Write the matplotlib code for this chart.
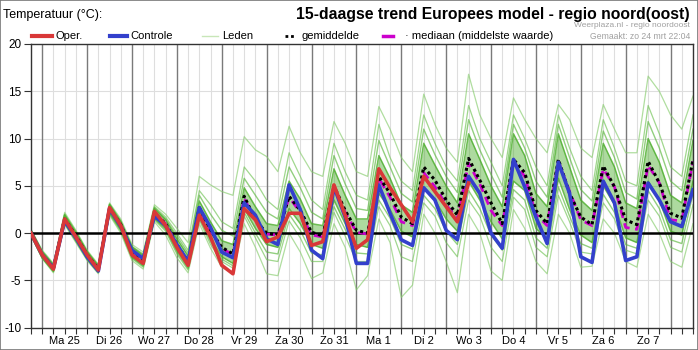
import numpy as np
import matplotlib
matplotlib.use('Agg')
import matplotlib.pyplot as plt
from matplotlib.lines import Line2D
from matplotlib.patches import Rectangle

plt.rcParams['font.family'] = ['Liberation Sans', 'DejaVu Sans']

# hours after ma 25 00:00, one value every 6 hours (zo 24 18:00 .. ma 8 12:00)
hours = np.arange(-6, 349, 6)

day_labels = ['Ma 25', 'Di 26', 'Wo 27', 'Do 28', 'Vr 29', 'Za 30', 'Zo 31',
              'Ma 1', 'Di 2', 'Wo 3', 'Do 4', 'Vr 5', 'Za 6', 'Zo 7']

# operational run (10 days)
oper = [0.0, -2.3, -3.8, 1.5, -0.4, -2.3, -3.9, 2.7, 0.8, -2.3,
        -3.2, 2.3, 0.8, -1.5, -3.4, 1.9, -0.4, -3.4, -4.3, 2.6,
        1.4, -0.9, -0.4, 2.1, 2.1, -1.3, -0.9, 5.1, 1.9, -1.6,
        -0.7, 6.8, 4.8, 3.0, 1.2, 6.0, 4.4, 2.8, 1.2, 5.3]

# control run
ctrl = [0.0, -2.3, -3.7, 1.3, -0.5, -2.5, -4.0, 2.6, 0.7, -1.8,
        -2.7, 1.8, 0.8, -1.2, -3.0, 2.7, 0.6, -2.0, -2.6, 3.2,
        1.9, -0.6, -1.2, 5.1, 2.5, -1.8, -2.7, 4.9, 1.7, -3.2,
        -3.2, 5.1, 2.1, -0.7, -1.3, 4.8, 3.5, 0.3, -0.7, 6.0,
        4.2, 0.0, -1.6, 7.8, 4.9, 1.7, -1.1, 7.5, 4.2, -2.5,
        -3.1, 5.5, 3.2, -2.9, -2.5, 5.3, 3.5, 1.2, 0.7, 4.6]

# ensemble mean
mean = [0.0, -2.3, -3.7, 1.5, -0.3, -2.3, -3.8, 2.6, 0.9, -2.0,
        -2.9, 2.1, 1.0, -1.2, -3.0, 2.7, 0.3, -1.5, -2.2, 3.9,
        1.4, 0.0, -0.2, 3.9, 2.4, 0.1, -0.3, 5.0, 2.4, 0.3,
        0.0, 6.0, 4.2, 1.7, 1.0, 7.0, 5.6, 3.5, 1.9, 7.9,
        5.6, 3.2, 1.0, 7.8, 6.4, 2.4, 1.0, 7.8, 4.2, 1.7,
        0.9, 7.1, 4.9, 1.4, 0.9, 7.6, 5.3, 2.1, 1.6, 7.8]

# ensemble median
median = [0.0, -2.3, -3.7, 1.5, -0.3, -2.3, -3.8, 2.6, 0.9, -2.0,
          -2.9, 2.1, 1.0, -1.2, -3.0, 2.5, 0.2, -1.6, -2.3, 3.7,
          1.3, -0.1, -0.2, 3.8, 2.2, -0.2, -0.4, 4.8, 2.2, 0.1,
          -0.1, 5.8, 3.8, 1.2, 0.8, 6.4, 4.9, 3.0, 1.5, 7.4,
          5.2, 2.4, 0.8, 7.6, 6.0, 2.0, 0.8, 7.6, 4.4, 1.4,
          0.8, 6.8, 4.9, 0.6, 0.4, 7.2, 5.3, 1.4, 1.3, 7.6]

# members: dense core band and the spread of outer lines
core_hi = [0.3, -2.0, -3.4, 1.9, 0.0, -2.0, -3.5, 3.0, 1.2, -1.5,
           -2.4, 2.6, 1.4, -0.6, -2.4, 3.4, 1.2, -0.8, -1.2, 4.8,
           2.8, 1.0, 0.8, 5.5, 3.6, 1.0, 0.8, 6.8, 4.0, 1.5,
           1.5, 8.2, 5.8, 3.0, 2.2, 9.5, 7.2, 5.0, 3.2, 10.5,
           7.8, 5.0, 2.8, 10.5, 8.2, 4.2, 2.8, 10.5, 7.0, 3.5,
           2.4, 9.5, 7.0, 3.2, 2.6, 10.0, 7.5, 4.0, 3.2, 9.8]
core_lo = [-0.2, -2.6, -4.0, 1.1, -0.7, -2.7, -4.1, 2.2, 0.4, -2.5,
           -3.4, 1.6, 0.5, -1.8, -3.6, 1.8, -0.6, -2.5, -3.2, 2.6,
           0.5, -1.2, -1.5, 2.6, 1.0, -1.2, -1.6, 3.5, 1.0, -1.2,
           -1.5, 4.2, 2.5, 0.2, -0.4, 4.8, 3.5, 1.5, 0.2, 5.5,
           3.5, 1.2, -0.6, 5.5, 4.5, 0.5, -0.6, 5.8, 2.5, -0.2,
           -1.0, 5.0, 3.0, -0.5, -1.0, 5.5, 3.5, 0.2, -0.2, 5.5]
hi = [0.4, -1.8, -3.2, 2.2, 0.3, -1.8, -3.3, 3.2, 1.5, -1.2,
      -2.0, 3.0, 2.0, 0.5, -1.0, 6.0, 5.1, 4.4, 4.0, 10.2,
      8.8, 8.1, 6.5, 11.3, 8.5, 6.5, 6.0, 11.8, 9.5, 6.5,
      6.0, 13.4, 11.0, 8.0, 6.5, 14.7, 11.5, 9.0, 7.5, 16.8,
      12.5, 10.0, 8.0, 14.3, 12.0, 10.0, 8.5, 13.6, 12.0, 9.0,
      8.0, 13.6, 11.0, 8.5, 8.5, 16.6, 15.0, 12.5, 11.0, 14.5]
up = [0.3, -1.9, -3.3, 2.0, 0.2, -1.9, -3.4, 3.1, 1.3, -1.4,
      -2.2, 2.8, 1.7, 0.0, -1.8, 4.5, 3.0, 1.2, 0.5, 7.0,
      5.5, 3.5, 2.5, 8.5, 6.0, 3.5, 2.5, 9.5, 6.5, 4.0,
      3.5, 11.5, 8.0, 5.5, 4.5, 12.5, 9.5, 7.0, 5.5, 13.5,
      10.0, 7.5, 5.0, 12.5, 10.0, 7.0, 5.0, 12.5, 9.0, 6.0,
      4.5, 12.0, 9.0, 5.5, 5.0, 13.5, 10.5, 7.0, 6.0, 12.5]
up2 = [0.35, -1.95, -3.35, 2.0, 0.1, -1.95, -3.45, 3.05, 1.25, -1.45,
       -2.3, 2.7, 1.5, -0.3, -2.1, 4.0, 2.0, 0.3, -0.3, 5.8,
       4.0, 2.2, 1.5, 7.0, 4.8, 2.2, 1.5, 8.2, 5.2, 2.6,
       2.4, 9.8, 7.0, 4.2, 3.3, 11.0, 8.3, 6.0, 4.3, 12.0,
       8.8, 6.2, 3.8, 11.5, 9.0, 5.5, 3.8, 11.5, 8.0, 4.6,
       3.4, 10.8, 8.0, 4.3, 3.6, 11.8, 9.0, 5.5, 4.5, 11.0]
dn2 = [-0.22, -2.62, -4.05, 1.05, -0.8, -2.75, -4.15, 2.1, 0.3, -2.6,
       -3.5, 1.5, 0.35, -2.0, -3.75, 1.6, -0.9, -2.75, -3.45, 2.2,
       0.0, -2.0, -2.2, 2.0, 0.3, -2.1, -2.3, 2.8, 0.4, -2.1,
       -2.2, 3.5, 1.6, -1.2, -1.7, 4.0, 2.6, 0.2, -1.2, 4.5,
       2.6, -0.2, -1.8, 4.6, 3.5, -0.5, -1.6, 4.9, 1.8, -1.1,
       -1.6, 4.1, 2.2, -1.2, -1.6, 4.5, 2.6, -0.7, -1.1, 4.2]
dn = [-0.25, -2.65, -4.1, 1.0, -0.9, -2.8, -4.2, 2.0, 0.2, -2.7,
      -3.6, 1.4, 0.2, -2.2, -3.9, 1.4, -1.2, -3.0, -3.7, 1.8,
      -0.5, -2.8, -3.0, 1.3, -0.5, -3.0, -3.0, 2.2, -0.3, -3.0,
      -3.0, 2.8, 0.8, -2.5, -3.0, 3.2, 1.8, -1.0, -2.5, 3.5,
      1.8, -1.5, -3.0, 3.8, 2.5, -1.5, -2.5, 4.0, 1.2, -2.0,
      -2.2, 3.2, 1.5, -1.8, -2.2, 3.5, 1.8, -1.5, -2.0, 3.0]
lo = [-0.3, -2.7, -4.2, 0.9, -1.0, -2.9, -4.3, 1.9, 0.0, -2.9,
      -3.8, 1.2, -0.2, -2.6, -4.2, 1.0, -1.6, -3.6, -4.2, 1.0,
      -1.5, -4.3, -4.5, 0.0, -2.0, -4.8, -4.2, 1.0, -1.5, -6.0,
      -4.5, 1.5, -1.0, -6.8, -5.5, 2.0, 0.0, -3.0, -6.3, 2.0,
      0.0, -4.0, -5.0, 2.5, 0.5, -3.0, -4.3, 2.0, 0.0, -3.6,
      -3.5, 1.5, 0.0, -3.0, -3.6, 2.0, 0.0, -3.0, -3.6, 1.0]

fig = plt.figure(figsize=(6.98, 3.5), dpi=100)
ax = fig.add_axes([31 / 698, 22.3 / 350, 662 / 698, 283.7 / 350])

# grid
for h in range(-6, 349, 6):
    if h % 24 == 0:
        ax.axvline(h, color='#7a7a7a', lw=1.0, zorder=1)
    else:
        ax.axvline(h, color='#dedede', lw=0.8, zorder=0)
for v in [-5, 5, 10, 15]:
    ax.axhline(v, color='#dedede', lw=0.8, zorder=0)

# ensemble members
green = '#4aad2a'
ax.fill_between(hours, core_lo, core_hi, color=green, alpha=0.45, lw=0, zorder=2)
for m in [hi, lo]:
    ax.plot(hours, m, color='#86cc6c', lw=0.9, alpha=0.65, zorder=2)
for m in [up, dn]:
    ax.plot(hours, m, color='#6ec252', lw=0.9, alpha=0.65, zorder=2)
for m in [up2, dn2]:
    ax.plot(hours, m, color='#58b63a', lw=1.0, alpha=0.65, zorder=2)
for m in [core_hi, core_lo]:
    ax.plot(hours, m, color=green, lw=1.1, alpha=0.8, zorder=2)

ax.axhline(0, color='black', lw=1.8, zorder=3)

ax.plot(hours, median, color='#cc00cc', lw=2.0, dashes=(3, 2), zorder=4)
ax.plot(hours, mean, color='black', lw=2.2, dashes=(1, 1), zorder=5)
ax.plot(hours, ctrl, color='#3340cc', lw=2.6, zorder=6)
ax.plot(hours[:len(oper)], oper, color='#d93838', lw=2.6, zorder=7)

ax.set_xlim(-6, 348)
ax.set_ylim(-10, 20)
ax.set_yticks([-10, -5, 0, 5, 10, 15, 20])
ax.set_yticklabels(['-10', '-5', '0', '5', '10', '15', '20'], fontsize=8.5)
ax.set_xticks([12 + 24 * d for d in range(len(day_labels))])
ax.set_xticklabels(day_labels, fontsize=8)
ax.set_xticks(list(range(-6, 349, 6)), minor=True)
ax.tick_params(axis='x', which='both', length=4, width=0.8, color='#333333', pad=2)
ax.tick_params(axis='y', length=5, width=0.8, color='#333333', pad=2)
for s in ax.spines.values():
    s.set_color('#333333')
    s.set_linewidth(1.0)

# titles
fig.text(3 / 698, 0.958, 'Temperatuur (°C):', fontsize=9, ha='left', va='center')
fig.text(690 / 698, 0.958, '15-daagse trend Europees model - regio noord(oost)',
         fontsize=11.3, fontweight='bold', ha='right', va='center')
fig.text(690 / 698, 0.928, 'Weerplaza.nl - regio noordoost', fontsize=6,
         color='#a0a0a0', ha='right', va='center')
fig.text(690 / 698, 0.895, 'Gemaakt: zo 24 mrt 22:04', fontsize=6.2,
         color='#a0a0a0', ha='right', va='center')

# legend row
ly = (350 - 36) / 350
legend_items = [
    (32, 52, 55, 'Oper.', dict(color='#d93838', lw=3)),
    (110, 127, 130, 'Controle', dict(color='#3340cc', lw=3)),
    (202, 218, 222, 'Leden', dict(color='#c8e6b8', lw=1)),
    (285, 296, 302, 'gemiddelde', dict(color='black', lw=2, dashes=(1, 1))),
    (383, 393, 405, '· mediaan (middelste waarde)', dict(color='#cc00cc', lw=2.5)),
]
for x0, x1, xt, label, style in legend_items:
    fig.add_artist(Line2D([x0 / 698, x1 / 698], [ly, ly], transform=fig.transFigure, **style))
    fig.text(xt / 698, ly, label, fontsize=8, ha='left', va='center')

fig.patches.append(Rectangle((0, 0), 1, 1, transform=fig.transFigure, fill=False,
                             edgecolor='#777777', lw=1.2))

fig.savefig('out.png', dpi=100)
